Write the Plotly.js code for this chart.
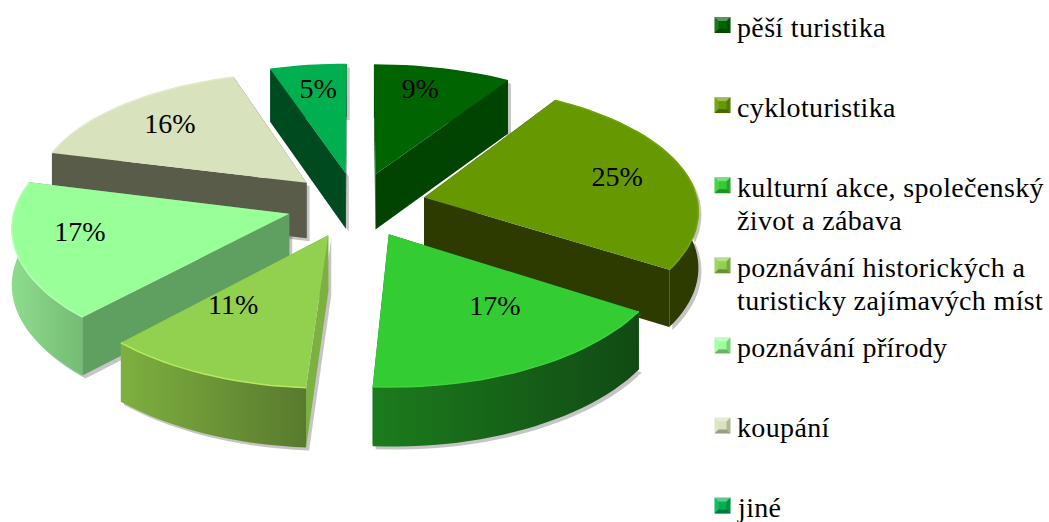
<!DOCTYPE html>
<html><head><meta charset="utf-8">
<script src="https://cdn.plot.ly/plotly-3.0.1.min.js"></script>
<style>html,body{margin:0;padding:0;background:#fff}#c{width:1049px;height:522px}.annotation-text{letter-spacing:.35px}</style>
</head><body><div id="c"></div>
<script>
// Data
var categories = ["pěší turistika","cykloturistika","kulturní akce, společenský<br>život a zábava","poznávání historických a<br>turisticky zajímavých míst","poznávání přírody","koupání","jiné"];
var values = [9,25,17,11,17,16,5];
var labels = ["9%","25%","17%","11%","17%","16%","5%"];
// Styles
var topColors  = ["#006400","#669900","#33CC33","#92D050","#99FF99","#D8E2BC","#00B050"];
var faceColors = ["#004400","#2D3B00","#1A7A1A","#7CB040","#5F9F5F","#595C48","#004A20"];
var arcFrom    = ["#004400","#2D3B00","#1C7C1C","#7EB03F","#8EDC8E","#595C48","#004A20"];
var arcTo      = ["#004400","#2D3B00","#114A14","#587A2E","#74BC74","#595C48","#004A20"];
var rimColors  = ["#006400","#72A600","#3BD63B","#B6EA5E","#B4FFB4","#E2EACB","#00B050"];
var drawOrder  = [6,0,5,1,4,3,2];
var labelNudge = [[-5,-5],[5,1],[7,-20],[-8,-25],[-14,-6],[-3,1],[0,-3]];
var cx=356.5, cy=204.6, B=274, A=128, ky=0.1136, kx=0.09, kz=0.05, E=0.254, H=56, labelR=0.72, swatchY0=25, swatchStep=80.1, lineStep=33;

function project(r,deg,ox,oy,z){
  var t=deg*Math.PI/180, X=ox+r*Math.sin(t), Y=oy+r*Math.cos(t);
  return [cx+B*X/(1+kx*Y), cy-A*Y/(1+ky*Y)+H*z/(1+kz*Y)];
}
function poly(pts,fill,extra){
  var tr={type:"scatter",mode:"none",x:pts.map(function(p){return p[0]}),y:pts.map(function(p){return p[1]}),
    fill:"toself",fillcolor:fill,line:{width:0},hoverinfo:"skip",showlegend:false};
  for(var q in extra) tr[q]=extra[q];
  return tr;
}
var total=values.reduce(function(a,b){return a+b},0), starts=[], acc=0;
values.forEach(function(v){starts.push(acc/total*360);acc+=v;});
var traces=[], lx=[], ly=[], ltext=[];
drawOrder.forEach(function(i){
  var a0=starts[i], a1=a0+values[i]/total*360, mid=(a0+a1)/2, m=mid*Math.PI/180;
  var ox=E*Math.sin(m), oy=E*Math.cos(m), n=Math.max(8,Math.round(values[i]*1.6));
  var arc=function(z){var o=[];for(var j=0;j<=n;j++)o.push(project(1,a0+(a1-a0)*j/n,ox,oy,z));return o;};
  var apex=function(z){return project(0,0,ox,oy,z);};
  var top=arc(0), low=arc(1);
  var sil=[apex(0)].concat(top).concat(low.slice().reverse()).concat([apex(1)]);
  traces.push(poly(sil.map(function(p){return [p[0]+3,p[1]+3]}),"rgba(90,90,90,0.35)"));
  traces.push(poly([apex(0),top[0],low[0],apex(1)],faceColors[i]));
  traces.push(poly([apex(0),top[n],low[n],apex(1)],faceColors[i]));
  traces.push(poly(top.concat(low.slice().reverse()),arcFrom[i],{fillgradient:{type:"horizontal",colorscale:[[0,arcFrom[i]],[1,arcTo[i]]]}}));
  traces.push(poly([apex(0)].concat(top),topColors[i]));
  traces.push({type:"scatter",mode:"lines",x:top.map(function(p){return p[0]}),y:top.map(function(p){return p[1]}),
    line:{color:rimColors[i],width:1.5},hoverinfo:"skip",showlegend:false});
});
values.forEach(function(v,i){
  var mid=starts[i]+v/total*180, m=mid*Math.PI/180;
  var p=project(labelR,mid,E*Math.sin(m),E*Math.cos(m),0);
  lx.push(p[0]+labelNudge[i][0]); ly.push(p[1]+labelNudge[i][1]); ltext.push(labels[i]);
});
traces.push({type:"scatter",mode:"text",x:lx,y:ly,text:ltext,textposition:"middle center",
  textfont:{family:"Liberation Serif",size:28,color:"#000"},hoverinfo:"skip",showlegend:false});
// legend
var annotations=[];
categories.forEach(function(c,i){
  var y=swatchY0+swatchStep*i, x0=714.5,x1=730.5,t=y-8,b=y+8,d=4,xc=x0+8;
  var col=topColors[i];
  traces.push(poly([[x0,t],[x1,t],[x1,b],[x0,b]],col));
  traces.push(poly([[x0,t],[x1,t],[xc,y]],"rgba(255,255,255,0.35)"));
  traces.push(poly([[x0,t],[x0,b],[xc,y]],"rgba(255,255,255,0.12)"));
  traces.push(poly([[x1,t],[x1,b],[xc,y]],"rgba(0,0,0,0.18)"));
  traces.push(poly([[x0,b],[x1,b],[xc,y]],"rgba(0,0,0,0.3)"));
  traces.push(poly([[x0+d,t+d],[x1-d,t+d],[x1-d,b-d],[x0+d,b-d]],col));
  c.split("<br>").forEach(function(line,j){
    annotations.push({xref:"x",yref:"y",x:735.5,y:y+2+lineStep*j,text:line,showarrow:false,xanchor:"left",yanchor:"middle",align:"left",
      borderpad:0,font:{family:"Liberation Serif",size:28,color:"#000"}});
  });
});
var layout={width:1049,height:522,margin:{l:0,r:0,t:0,b:0},paper_bgcolor:"#fff",plot_bgcolor:"#fff",showlegend:false,
  xaxis:{range:[0,1049],visible:false,fixedrange:true},
  yaxis:{range:[522,0],visible:false,fixedrange:true},annotations:annotations};
Plotly.newPlot("c",traces,layout,{displayModeBar:false,staticPlot:true});
</script></body></html>
